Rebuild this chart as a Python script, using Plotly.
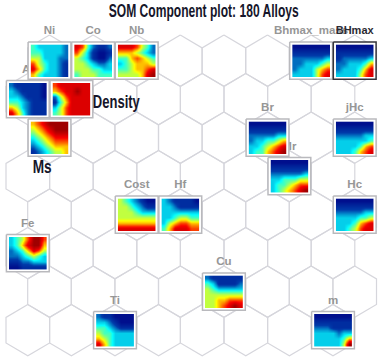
import plotly.graph_objects as go

TITLE = "SOM Component plot: 180 Alloys"
NAMES = ["Ni", "Co", "Nb", "Al", "Density", "Ms", "Bhmax_mass", "BHmax", "Br", "jHc",
         "Mr", "Cost", "Hf", "Hc", "Fe", "Cu", "Ti", "m"]
ROWS = [0, 0, 0, 1, 1, 2, 0, 0, 2, 2, 3, 4, 4, 4, 5, 6, 7, 7]
COLS = [0, 1, 2, 0, 1, 0, 6, 7, 5, 7, 6, 2, 3, 7, 0, 4, 2, 7]

Ni = ["4333332", "4433332", "5533322", "7543321", "8643321", "6433321"]
Co = ["8742112", "7531001", "5431002", "5543223", "5554433", "4555444"]
Nb = ["8887542", "6665432", "4467654", "3456665", "4456678", "5555689"]
Al = ["2111110", "3211110", "3321110", "4432111", "6532111", "8642111"]
Density = ["7888888", "6788988", "2578888", "1468888", "3578888", "4578888"]
Ms = ["6789999", "5678999", "4567888", "3456777", "2345666", "1234556"]
Bhmax_mass = ["0000000", "1111111", "2222223", "2233345", "2333567", "3333578"]
BHmax = ["0000000", "1111111", "1222223", "2233346", "2333468", "3333578"]
Br = ["0000000", "1111111", "2222233", "2334456", "3345678", "3446789"]
jHc = ["0000000", "1111111", "2222233", "3333334", "3333467", "3334678"]
Mr = ["0000000", "1111111", "2222223", "3344455", "3445677", "3456789"]
Cost = ["5432100", "5543211", "5554333", "5555555", "6666666", "8888888"]
Hf = ["3211110", "3321111", "3333333", "3345544", "3567766", "4688877"]
Hc = ["0000000", "1111111", "2222233", "3333445", "3334678", "3345788"]
Fe = ["3457997", "3468996", "2346875", "2234543", "1122333", "0011111"]
Cu = ["2111111", "4311112", "5433333", "5555555", "5566777", "5567898"]
Ti = ["2110000", "3321000", "4432111", "5443333", "6543333", "8643333"]
m = ["0000000", "1111111", "2221111", "3333233", "3333346", "3333359"]
GRIDS = [Ni, Co, Nb, Al, Density, Ms, Bhmax_mass, BHmax, Br, jHc, Mr, Cost, Hf, Hc, Fe, Cu, Ti, m]

W, H = 384, 361
X0, X0_SHIFT, DX, Y0, DY, R = 49.5, 27.8, 43.6, 60.7, 38.5, 25.6


def cx(r, c):
    return (X0_SHIFT if r % 2 else X0) + DX * c


def cy(r):
    return Y0 + DY * r


fig = go.Figure()

# honeycomb
hx, hy = [], []
for r in range(8):
    for c in range(8):
        x, y = cx(r, c), cy(r)
        d = DX / 2
        hx += [x, x + d, x + d, x, x - d, x - d, x, None]
        hy += [y - R, y - R / 2, y + R / 2, y + R, y + R / 2, y - R / 2, y - R, None]
fig.add_trace(go.Scatter(x=hx, y=hy, mode="lines", line=dict(color="#d6d6dc", width=1.2), hoverinfo="skip"))

# gray labels (sit under the panels)
lab_idx = [i for i, n in enumerate(NAMES) if n != "BHmax"]
fig.add_trace(go.Scatter(
    x=[cx(ROWS[i], COLS[i]) for i in lab_idx],
    y=[cy(ROWS[i]) - 29.5 for i in lab_idx],
    text=[NAMES[i] for i in lab_idx], mode="text",
    textfont=dict(family="Liberation Sans", size=11.5, color="#969696", weight="bold"),
    hoverinfo="skip"))
i_b = NAMES.index("BHmax")
fig.add_trace(go.Scatter(
    x=[cx(ROWS[i_b], COLS[i_b])], y=[cy(ROWS[i_b]) - 29.5], text=["BHmax"], mode="text",
    textfont=dict(family="Liberation Sans", size=11, color="#2b2b33", weight="bold"),
    hoverinfo="skip"))

# panel frames
BW, BH = 21.4, 18.6
fx, fy, dx_, dy_ = [], [], [], []
for i, n in enumerate(NAMES):
    x, y = cx(ROWS[i], COLS[i]), cy(ROWS[i])
    xs = [x - BW, x + BW, x + BW, x - BW, x - BW, None]
    ys = [y - BH, y - BH, y + BH, y + BH, y - BH, None]
    if n == "BHmax":
        dx_ += xs
        dy_ += ys
    else:
        fx += xs
        fy += ys
fig.add_trace(go.Scatter(x=fx, y=fy, mode="lines", fill="toself", fillcolor="white",
                         line=dict(color="#b9b9bd", width=1.5), hoverinfo="skip"))
fig.add_trace(go.Scatter(x=dx_, y=dy_, mode="lines", fill="toself", fillcolor="white",
                         line=dict(color="#33333a", width=1.5), hoverinfo="skip"))

layout = dict(
    width=W, height=H, margin=dict(l=0, r=0, t=0, b=0), paper_bgcolor="white", plot_bgcolor="white",
    showlegend=False,
    xaxis=dict(range=[0, W], visible=False, domain=[0, 1]),
    yaxis=dict(range=[H, 0], visible=False, domain=[0, 1]),
)

# heatmap panels
IW, IH = 18.9, 16.3
for i, g in enumerate(GRIDS):
    k = i + 2
    x, y = cx(ROWS[i], COLS[i]), cy(ROWS[i])
    z = [[int(ch) for ch in row] for row in g]
    fig.add_trace(go.Heatmap(z=z, colorscale="Jet", zmin=-0.5, zmax=9.5, zsmooth="best",
                             showscale=False, hoverinfo="skip", xaxis=f"x{k}", yaxis=f"y{k}"))
    layout[f"xaxis{k}"] = dict(domain=[(x - IW) / W, (x + IW) / W], anchor=f"y{k}", visible=False)
    layout[f"yaxis{k}"] = dict(domain=[1 - (y + IH) / H, 1 - (y - IH) / H], anchor=f"x{k}",
                               visible=False, autorange="reversed")

big = dict(family="Liberation Sans", color="#16162a", weight="bold")
layout["annotations"] = [
    dict(text=TITLE, x=204, y=10.5, xref="x", yref="y", showarrow=False, font=dict(size=17.5, **big)),
    dict(text="Density", x=116.5, y=101, xref="x", yref="y", showarrow=False, font=dict(size=19, **big)),
    dict(text="Ms", x=41.5, y=166, xref="x", yref="y", showarrow=False, font=dict(size=19, **big)),
]
fig.update_layout(**layout)

POST = """
document.body.style.margin = '0';
var lens = {'SOM Component plot: 180 Alloys': 190, 'Density': 47, 'Ms': 19};
document.querySelectorAll('.annotation-text').forEach(function (t) {
  var n = lens[t.textContent];
  if (n) { t.setAttribute('textLength', n); t.setAttribute('lengthAdjust', 'spacingAndGlyphs'); }
});
"""
fig.write_html("out.html", config=dict(displayModeBar=False), post_script=POST)
